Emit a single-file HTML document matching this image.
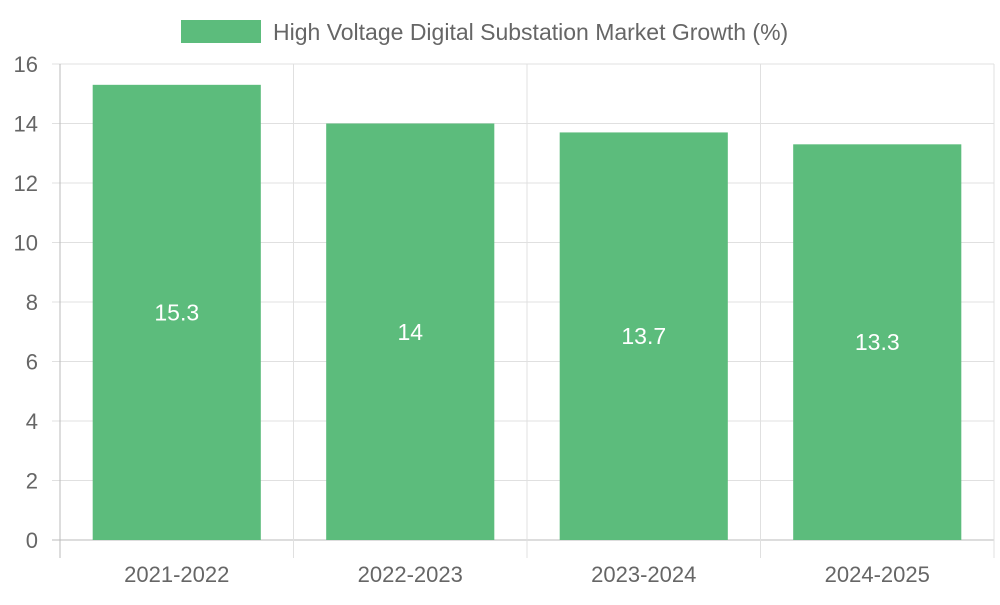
<!DOCTYPE html>
<html><head><meta charset="utf-8"><style>
body{margin:0;background:#fff;}
svg text{font-family:"Liberation Sans",sans-serif;}
</style></head><body>
<svg id="chart" width="1000" height="600" xmlns="http://www.w3.org/2000/svg">
<g>
<rect x="181" y="20" width="80" height="23" fill="#5cbc7c"/>
<text x="273" y="40" font-size="23" fill="#666">High Voltage Digital Substation Market Growth (%)</text>
</g>
<g id="grid"></g><g id="bars"></g><g id="labels"></g>
</svg>
<script>
const categories=["2021-2022","2022-2023","2023-2024","2024-2025"];
const values=[15.3,14,13.7,13.3];
const yTicks=[0,2,4,6,8,10,12,14,16];
const NS="http://www.w3.org/2000/svg";
const L=60,R=994,T=64,B=540,YMAX=16;
const y=v=>B-(v/YMAX)*(B-T);
const band=(R-L)/categories.length;
const xc=i=>L+band*(i+0.5);
function mk(tag,attrs,parent){const e=document.createElementNS(NS,tag);for(const k in attrs)e.setAttribute(k,attrs[k]);parent.appendChild(e);return e;}
const grid=document.getElementById('grid'),bars=document.getElementById('bars'),labels=document.getElementById('labels');
yTicks.forEach(t=>{
 const ln=mk('line',{x1:52,x2:R,y1:y(t),y2:y(t),stroke:t===0?'#bbb':'#e0e0e0','stroke-width':1},grid);
 
 
 const tx=mk('text',{x:38,y:y(t)+8,'text-anchor':'end','font-size':22,fill:'#666'},grid);
 tx.textContent=t;
 
 
});
for(let i=0;i<=categories.length;i++){
 const x=L+band*i;
 const ln=mk('line',{x1:x,x2:x,y1:T,y2:558,stroke:i===0?'#bbb':'#e0e0e0','stroke-width':1},grid);
 
 
}
categories.forEach((c,i)=>{
 const w=band*0.72;
 const r=mk('rect',{x:xc(i)-w/2,y:y(values[i]),width:w,height:B-y(values[i]),fill:'#5cbc7c'},bars);
 
 
 const v=mk('text',{x:xc(i),y:(y(values[i])+B)/2+8,'text-anchor':'middle','font-size':23,fill:'#fff'},labels);
 v.textContent=values[i];
 
 
 const tx=mk('text',{x:xc(i),y:582,'text-anchor':'middle','font-size':22,fill:'#666'},labels);
 tx.textContent=c;
 
 
});
</script>
</body></html>
